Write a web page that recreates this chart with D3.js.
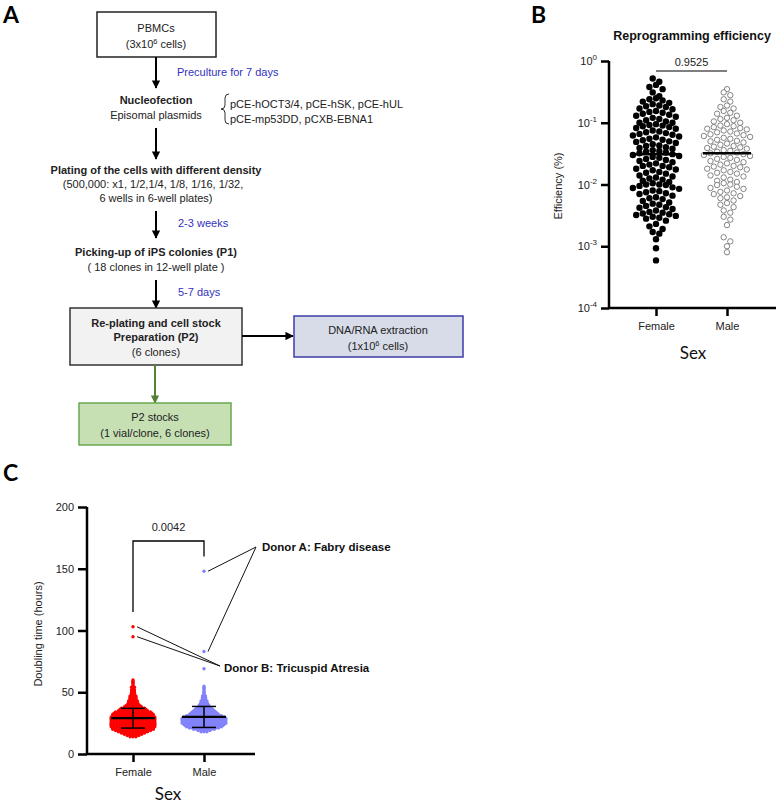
<!DOCTYPE html>
<html><head><meta charset="utf-8">
<script src="https://cdn.jsdelivr.net/npm/d3@7"></script>
<style>
body{margin:0;background:#fff;}
svg{display:block;font-family:"Liberation Sans",Arial,sans-serif;}
</style></head>
<body><svg id="fig" width="777" height="805"></svg>
<script>
// ---------- Panel B data (reprogramming efficiency, %) ----------
const bCategories = ['Female','Male'];
const bFemale = [0.52,0.46, 0.41,0.38,0.35, 0.31,0.27, 0.25,0.24,0.23,0.22,0.21,
  0.2,0.19,0.185,0.18,0.17,0.165, 0.155,0.15,0.145,0.14,0.135,0.13,
  0.125,0.12,0.115,0.11,0.105,0.1,0.1, 0.095,0.092,0.09,0.088,0.085,0.082,0.08,
  0.075,0.072,0.07,0.068,0.066,0.064,0.062, 0.06,0.058,0.055,0.053,0.052,0.05,0.049,
  0.047,0.045,0.043,0.042,0.04,0.039,0.038, 0.036,0.035,0.034,0.033,0.032,0.031,0.03,
  0.029,0.028,0.027,0.026,0.025,0.024,0.023, 0.022,0.021,0.02,0.02,0.019,0.018,
  0.0175,0.017,0.016,0.0155,0.015,0.014, 0.0135,0.013,0.0125,0.012,0.0115,0.011,
  0.0105,0.01,0.01,0.0098,0.0095,0.009,0.0088, 0.0085,0.008,0.0078,0.0075,0.0072,0.007,
  0.0066,0.0062,0.006,0.0058,0.0054, 0.0051,0.0049,0.0047,0.0045,0.0043,0.0042,
  0.004,0.0038,0.0036,0.0035,0.0034,0.0033,0.0032, 0.0031,0.003,0.0029,0.0028,0.0026,
  0.0023,0.0021, 0.0019,0.0017,0.0016, 0.0013, 0.00093, 0.00059];
const bMale = [0.35, 0.31,0.28, 0.24,0.22, 0.19,0.18,0.17, 0.155,0.145,0.14,0.13,
  0.12,0.115,0.11,0.105,0.1, 0.095,0.09,0.088,0.085,0.082,0.08,0.078,
  0.075,0.072,0.07,0.067,0.065,0.063,0.061, 0.059,0.057,0.055,0.053,0.051,0.05,0.048,
  0.046,0.044,0.042,0.041,0.04,0.039,0.038, 0.036,0.035,0.034,0.033,0.032,0.031,0.03,
  0.029,0.028,0.027,0.026,0.025,0.024,0.023, 0.022,0.021,0.02,0.0195,0.019,0.018,
  0.0175,0.017,0.016,0.0155,0.015,0.014, 0.0135,0.013,0.012,0.0115,0.011,
  0.0105,0.01,0.0098,0.0092,0.0088, 0.0085,0.008,0.0076,0.0072,0.007,
  0.0065,0.0062,0.006,0.0055, 0.005,0.0047,0.0043, 0.0038,0.0035, 0.003,0.0027,
  0.0022, 0.0014,0.0012, 0.001, 0.0008];
const bMedians = [0.031, 0.032];
const bPValue = '0.9525';
const bTicks = [1e-4, 1e-3, 1e-2, 1e-1, 1];

// ---------- Panel C data (value bins in hours, number of clones per bin) ----------
const cCategories = ['Female','Male'];
const cFemaleValues = [14,15,16,17,18,19,20,21,22,23,24,25,26,27,28,29,30,31,32,33,34,35,36,37,38,39,40,41,42,43,44,45,46,47,48,49,50,51,52,53,54,55,56,57,58,59,60,95,103];
const cFemaleCounts = [3,5,7,9,11,13,15,15,16,16,16,16,16,16,16,16,16,15,15,14,13,11,10,9,7,6,5,4,4,4,3,3,3,3,2,2,2,2,2,1,2,1,1,1,1,1,1,1,1];
const cMaleValues = [18,19,20,21,22,23,24,25,26,27,28,29,30,31,32,33,34,35,36,37,38,39,40,41,42,43,44,45,46,47,48,49,50,51,52,53,54,55,69,83,148];
const cMaleCounts = [3,5,8,11,13,14,15,16,16,16,16,16,15,13,11,10,9,8,7,6,5,4,4,3,3,3,2,2,2,2,1,1,1,1,1,1,1,1,1,1,1];
const cMeans = [29, 30];
const cSDLow = [21, 21.5];
const cSDHigh = [37, 38.5];
const cPValue = '0.0042';
const cTicks = [0, 50, 100, 150, 200];

const svg = d3.select('#fig');
svg.append('rect').attr('width',777).attr('height',805).attr('fill','#fff');

const txtCol = '#222';
function label(g, x, y, s, opt={}) {
  return g.append('text').attr('x',x).attr('y',y).text(s)
    .attr('font-size', opt.size || 11)
    .attr('font-weight', opt.bold ? 'bold' : 'normal')
    .attr('text-anchor', opt.anchor || 'middle')
    .attr('fill', opt.color || txtCol)
    .attr('font-family', opt.family || null);
}

// panel letters
label(svg, 3, 23, 'A', {size:23, bold:true, anchor:'start', color:'#000', family:'Lato, sans-serif'});
label(svg, 531, 23, 'B', {size:23, bold:true, anchor:'start', color:'#000', family:'Lato, sans-serif'});
label(svg, 3, 481, 'C', {size:23, bold:true, anchor:'start', color:'#000', family:'Lato, sans-serif'});

// ---------- Panel A flowchart ----------
const defs = svg.append('defs');
function marker(id, color){
  defs.append('marker').attr('id',id).attr('viewBox','0 0 10 10').attr('refX',9).attr('refY',5)
    .attr('markerWidth',4.2).attr('markerHeight',4.2).attr('orient','auto-start-reverse')
    .attr('markerUnits','strokeWidth')
    .append('path').attr('d','M0,0 L10,5 L0,10 z').attr('fill',color);
}
marker('arrB','#000'); marker('arrG','#548235');
const A = svg.append('g');
function arrow(x1,y1,x2,y2,color,id){
  A.append('line').attr('x1',x1).attr('y1',y1).attr('x2',x2).attr('y2',y2)
   .attr('stroke',color).attr('stroke-width',2).attr('marker-end',`url(#${id})`);
}
function box(x,y,w,h,fill,stroke){
  A.append('rect').attr('x',x).attr('y',y).attr('width',w).attr('height',h)
   .attr('fill',fill).attr('stroke',stroke).attr('stroke-width',1.5);
}
const blue = '#3232c0';
box(97,12,119,45,'#fff','#222');
label(A,156,32,'PBMCs');
const t1 = label(A,156,48,'(3x10');
t1.append('tspan').attr('dy',-4).attr('font-size',7.5).text('6');
t1.append('tspan').attr('dy',4).text(' cells)');
arrow(156,57,156,88,'#000','arrB');
label(A,177,76,'Preculture for 7 days',{anchor:'start',color:blue});
label(A,156,104,'Nucleofection',{bold:true});
label(A,156,119,'Episomal plasmids');
A.append('path').attr('d','M229,94 q-4,0 -4,4 v7 q0,4 -4,4 q4,0 4,4 v7 q0,4 4,4')
  .attr('fill','none').attr('stroke','#333').attr('stroke-width',1);
label(A,230,108,'pCE-hOCT3/4, pCE-hSK, pCE-hUL',{anchor:'start'});
label(A,230,123,'pCE-mp53DD, pCXB-EBNA1',{anchor:'start'});
arrow(156,128,156,159,'#000','arrB');
label(A,156,174,'Plating of the cells with different density',{bold:true});
label(A,153,188,'(500,000: x1, 1/2,1/4, 1/8, 1/16, 1/32,');
label(A,156,202,'6 wells in 6-well plates)');
arrow(156,211,156,238,'#000','arrB');
label(A,178,227,'2-3 weeks',{anchor:'start',color:blue});
label(A,156,256,'Picking-up of iPS colonies (P1)',{bold:true});
label(A,156,271,'( 18 clones in 12-well plate )');
arrow(156,280,156,308,'#000','arrB');
label(A,178,296,'5-7 days',{anchor:'start',color:blue});
box(70,308,172,57,'#f2f2f2','#333');
label(A,156,327,'Re-plating and cell stock',{bold:true});
label(A,156,341,'Preparation (P2)',{bold:true});
label(A,156,356,'(6 clones)');
arrow(242,336,293,336,'#000','arrB');
box(294,316,169,41,'#d7dce8','#3c3ca8');
label(A,378,334,'DNA/RNA extraction');
const t2 = label(A,378,350,'(1x10');
t2.append('tspan').attr('dy',-4).attr('font-size',7.5).text('6');
t2.append('tspan').attr('dy',4).text(' cells)');
arrow(155,365,155,403,'#548235','arrG');
box(79,403,152,42,'#c6e0b4','#6aa84f');
label(A,155,421,'P2 stocks');
label(A,155,437,'(1 vial/clone, 6 clones)');

// ---------- row-packed scatter (GraphPad style) ----------
function rowPack(values, yScale, cx, r, y0){
  const h = 2*r;
  const groups = d3.groups(values.map(v=>({v, y:yScale(v)})), d=>Math.round((d.y-y0)/h));
  const out = [];
  groups.forEach(([k, pts])=>{
    pts.sort((a,b)=>a.y-b.y);
    const n = pts.length;
    const slots = d3.range(n).map(i=>(i-(n-1)/2)*h)
      .sort((a,b)=>Math.abs(a)-Math.abs(b) || a-b);
    pts.forEach((p,i)=>{ p.x = cx + slots[i]; out.push(p); });
  });
  return out;
}

// ---------- Panel B ----------
const B = svg.append('g');
const yB = d3.scaleLog().domain([1e-4,1]).range([308,61]);
const xB = d3.scalePoint().domain(bCategories).range([656,727]);
const axW = 2.5;
const yAxB = B.append('g').attr('transform','translate(609,0)')
  .call(d3.axisLeft(yB).tickValues(bTicks).tickSize(8).tickSizeOuter(0).tickPadding(4).tickFormat(()=>''));
yAxB.select('.domain').remove();
yAxB.selectAll('.tick line').attr('stroke','#000').attr('stroke-width',axW);
yAxB.selectAll('.tick text').each(function(d){
  const t = d3.select(this).attr('font-size',11).attr('fill',txtCol).attr('font-family','"Liberation Sans",Arial,sans-serif');
  t.text('10');
  t.append('tspan').attr('dy',-5).attr('font-size',8).text(Math.round(Math.log10(d)));
});
const xAxB = B.append('g').attr('transform','translate(0,308)')
  .call(d3.axisBottom(xB).tickSize(8).tickSizeOuter(0).tickPadding(6));
xAxB.select('.domain').remove();
xAxB.selectAll('.tick line').attr('stroke','#000').attr('stroke-width',axW);
xAxB.selectAll('.tick text').attr('font-size',11).attr('fill',txtCol).attr('font-family','"Liberation Sans",Arial,sans-serif');
B.append('path').attr('d','M609,61 V308 H776').attr('fill','none').attr('stroke','#000').attr('stroke-width',axW);

const rB = 3.3;
B.append('g').selectAll('circle').data(rowPack(bFemale,yB,xB('Female'),rB,61)).join('circle')
  .attr('cx',d=>d.x).attr('cy',d=>d.y).attr('r',rB-0.1).attr('fill','#000');
B.append('g').selectAll('circle').data(rowPack(bMale,yB,xB('Male'),rB,61)).join('circle')
  .attr('cx',d=>d.x).attr('cy',d=>d.y).attr('r',rB-0.6).attr('fill','#fff').attr('stroke','#666').attr('stroke-width',0.8);
B.append('g').selectAll('line').data(bCategories).join('line')
  .attr('x1',d=>xB(d)-24).attr('x2',d=>xB(d)+24)
  .attr('y1',(d,i)=>yB(bMedians[i])).attr('y2',(d,i)=>yB(bMedians[i]))
  .attr('stroke','#000').attr('stroke-width',2.5);
B.append('line').attr('x1',xB('Female')).attr('x2',xB('Male')).attr('y1',71).attr('y2',71).attr('stroke','#000').attr('stroke-width',1);
label(B,(xB('Female')+xB('Male'))/2,66,bPValue);
label(B,692,40,'Reprogramming efficiency',{bold:true,size:12.5,color:'#111'});
label(B,0,0,'Efficiency (%)').attr('transform','translate(562,186) rotate(-90)');
label(B,693,359,'Sex',{size:17,family:'Lato, sans-serif',color:'#111'});

// ---------- Panel C ----------
const C = svg.append('g');
const yC = d3.scaleLinear().domain([0,200]).range([754,507]);
const xC = d3.scalePoint().domain(cCategories).range([133,204]);
const yAxC = C.append('g').attr('transform','translate(87,0)')
  .call(d3.axisLeft(yC).tickValues(cTicks).tickSize(9).tickSizeOuter(0).tickPadding(4));
yAxC.select('.domain').remove();
yAxC.selectAll('.tick line').attr('stroke','#000').attr('stroke-width',axW);
yAxC.selectAll('.tick text').attr('font-size',11).attr('fill',txtCol).attr('font-family','"Liberation Sans",Arial,sans-serif');
const xAxC = C.append('g').attr('transform','translate(0,754)')
  .call(d3.axisBottom(xC).tickSize(8).tickSizeOuter(0).tickPadding(6));
xAxC.select('.domain').remove();
xAxC.selectAll('.tick line').attr('stroke','#000').attr('stroke-width',axW);
xAxC.selectAll('.tick text').attr('font-size',11).attr('fill',txtCol).attr('font-family','"Liberation Sans",Arial,sans-serif');
C.append('path').attr('d','M87,507 V754 H255').attr('fill','none').attr('stroke','#000').attr('stroke-width',axW);

function rows(values, counts, cx, sp){
  const out = [];
  values.forEach((v,i)=>{
    const n = counts[i];
    for (let k=0;k<n;k++) out.push({v, x: cx + (k-(n-1)/2)*sp, y: yC(v)});
  });
  return out;
}
const rC = 1.7;
C.append('g').selectAll('circle').data(rows(cFemaleValues,cFemaleCounts,xC('Female'),2.9)).join('circle')
  .attr('cx',d=>d.x).attr('cy',d=>d.y).attr('r',rC).attr('fill','#ff0000');
C.append('g').selectAll('circle').data(rows(cMaleValues,cMaleCounts,xC('Male'),2.9)).join('circle')
  .attr('cx',d=>d.x).attr('cy',d=>d.y).attr('r',rC).attr('fill','#8282fa');
// mean and SD
cCategories.forEach((c,i)=>{
  const x = xC(c);
  C.append('line').attr('x1',x-22).attr('x2',x+22).attr('y1',yC(cMeans[i])).attr('y2',yC(cMeans[i])).attr('stroke','#000').attr('stroke-width',2.2);
  C.append('line').attr('x1',x).attr('x2',x).attr('y1',yC(cSDLow[i])).attr('y2',yC(cSDHigh[i])).attr('stroke','#000').attr('stroke-width',1.5);
  [cSDLow[i],cSDHigh[i]].forEach(v=>C.append('line').attr('x1',x-12).attr('x2',x+12).attr('y1',yC(v)).attr('y2',yC(v)).attr('stroke','#000').attr('stroke-width',1.5));
});
// bracket
C.append('path').attr('d',`M${xC('Female')},${yC(115)} V541 H${xC('Male')} V${yC(160)}`)
  .attr('fill','none').attr('stroke','#000').attr('stroke-width',1.3);
label(C,(xC('Female')+xC('Male'))/2,531,cPValue);
// annotations
const donorA = [148, 83], donorB = [103, 95];
donorA.forEach(v=>C.append('line').attr('x1',256).attr('y1',547).attr('x2',xC('Male')+4).attr('y2',yC(v)).attr('stroke','#111').attr('stroke-width',1));
donorB.forEach(v=>C.append('line').attr('x1',220).attr('y1',666).attr('x2',xC('Female')+4).attr('y2',yC(v)).attr('stroke','#111').attr('stroke-width',1));
label(C,262,551,'Donor A: Fabry disease',{anchor:'start',bold:true,size:11.5,color:'#111'});
label(C,224,672,'Donor B: Tricuspid Atresia',{anchor:'start',bold:true,size:11.5,color:'#111'});
label(C,0,0,'Doubling time (hours)').attr('transform','translate(42,634) rotate(-90)');
label(C,168,800,'Sex',{size:17,family:'Lato, sans-serif',color:'#111'});
</script></body></html>
